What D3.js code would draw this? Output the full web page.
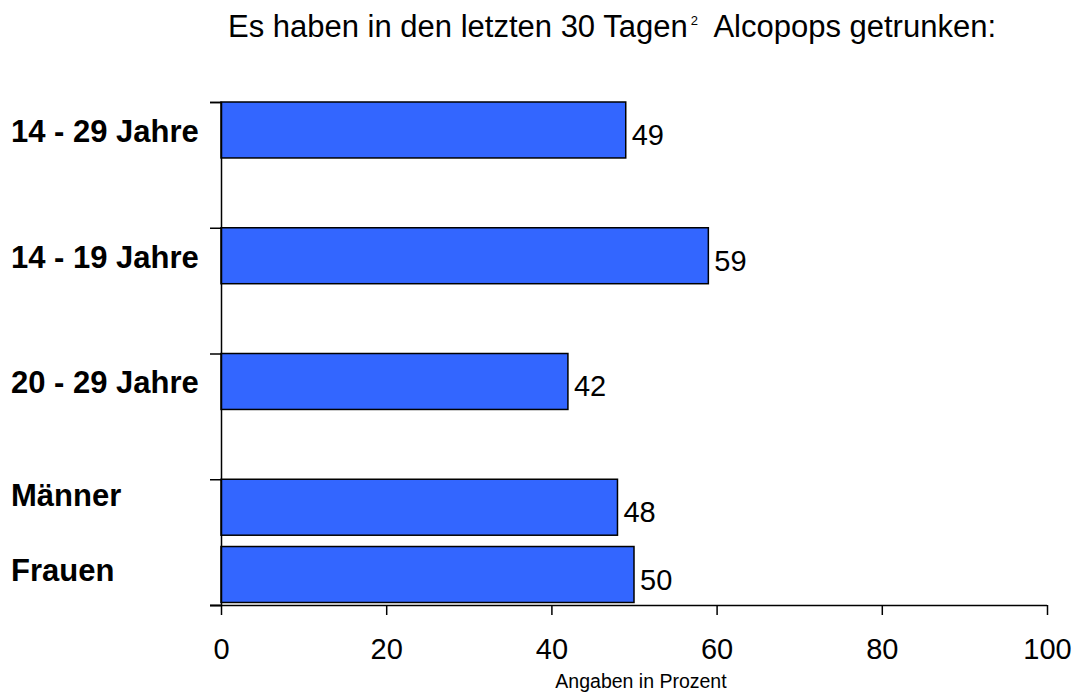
<!DOCTYPE html>
<html>
<head>
<meta charset="utf-8">
<script src="https://cdn.jsdelivr.net/npm/d3@7"></script>
<style>
  body { margin: 0; background: #fff; }
  text { font-family: "Liberation Sans", Arial, sans-serif; fill: #000; }
</style>
</head>
<body>
<svg id="chart"></svg>
<script>
var width = 1077, height = 697;

// data
var labels = ["14 - 29 Jahre", "14 - 19 Jahre", "20 - 29 Jahre", "Männer", "Frauen"];
var values = [49, 59, 42, 48, 50];
var groups = [0, 1, 2, 3, 3];     // which tick band each bar sits in
var slots = [0, 0, 0, 0, 1];      // position inside the band
var xTicks = [0, 20, 40, 60, 80, 100];

var svg = d3.select("#chart").attr("width", width).attr("height", height);

var x = d3.scaleLinear().domain([0, 100]).range([221, 1047]);
var y = d3.scaleLinear().domain([0, 4]).range([102, 605]);
var barH = (y(1) - y(0)) * 0.445;
var slotStep = (y(1) - y(0)) * 0.535;

function barTop(i) { return y(groups[i]) + slots[i] * slotStep; }

// title
var title = svg.append("text")
    .attr("x", 228).attr("y", 37)
    .style("font-size", "31px");
title.append("tspan").text("Es haben in den letzten 30 Tagen");
title.append("tspan").attr("dx", 3).attr("dy", -12).style("font-size", "13px").text("2");
title.append("tspan").attr("dy", 12).text("\u00a0 Alcopops getrunken:");

// bars
svg.selectAll("rect.bar")
    .data(values)
    .enter().append("rect")
    .attr("class", "bar")
    .attr("x", x(0))
    .attr("y", function (d, i) { return barTop(i); })
    .attr("width", function (d) { return x(d) - x(0); })
    .attr("height", barH)
    .attr("fill", "#3366ff")
    .attr("stroke", "#000")
    .attr("stroke-width", 1.5);

// value labels
svg.selectAll("text.val")
    .data(values)
    .enter().append("text")
    .attr("class", "val")
    .attr("x", function (d) { return x(d) + 6; })
    .attr("y", function (d, i) { return barTop(i) + barH / 2 + 15; })
    .style("font-size", "29px")
    .text(function (d) { return d; });

// category labels
var labelDy = [12, 12, 12, -1.5, 6];
svg.selectAll("text.cat")
    .data(labels)
    .enter().append("text")
    .attr("class", "cat")
    .attr("x", 11)
    .attr("y", function (d, i) { return barTop(i) + barH / 2 + labelDy[i]; })
    .style("font-size", "31px")
    .style("font-weight", "bold")
    .text(function (d) { return d; });

// y axis (band boundaries)
svg.append("g")
    .attr("transform", "translate(" + x(0) + ",0)")
    .call(d3.axisLeft(y).tickValues([0, 1, 2, 3, 4]).tickSize(11).tickFormat(""));

// x axis
var xAxis = svg.append("g")
    .attr("transform", "translate(0," + y(4) + ")")
    .call(d3.axisBottom(x).tickValues(xTicks).tickSize(10).tickSizeOuter(0).tickPadding(23));
xAxis.selectAll("text").style("font-size", "29px").style("font-family", "'Liberation Sans', Arial, sans-serif");

svg.selectAll(".domain").attr("stroke", "#000").attr("stroke-width", 1.5);
svg.selectAll(".tick line").attr("stroke", "#000").attr("stroke-width", 1.5);
// extend x axis line to the left tick
xAxis.select(".domain").attr("d", "M" + (x(0) - 11) + ",0.5H" + x(100));

svg.append("text")
    .attr("x", 641)
    .attr("y", 688)
    .attr("text-anchor", "middle")
    .style("font-size", "19.5px")
    .text("Angaben in Prozent");
</script>
</body>
</html>
